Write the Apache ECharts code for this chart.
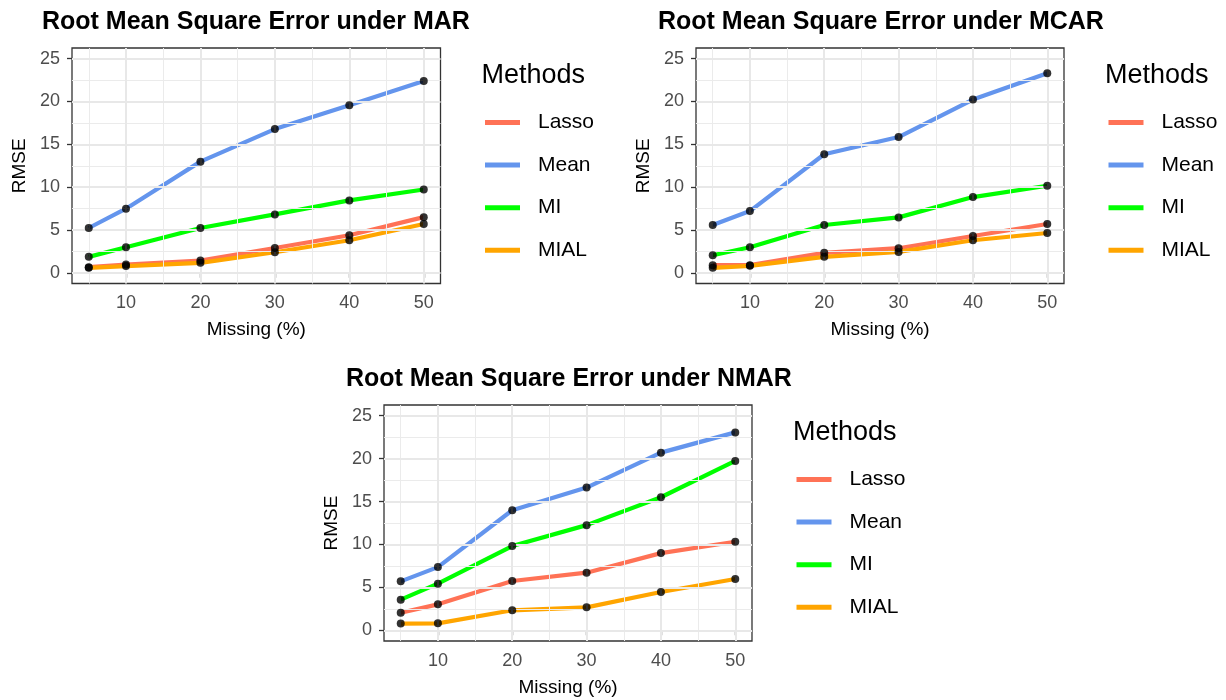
<!DOCTYPE html>
<html>
<head>
<meta charset="utf-8">
<script src="https://cdn.jsdelivr.net/npm/echarts@6/dist/echarts.min.js"></script>
<style>
  html, body { margin: 0; padding: 0; background: #fff; }
  #chart { width: 1226px; height: 700px; }
</style>
</head>
<body>
<div id="chart"></div>
<script>
// ---------- data ----------
const missingPct = [5, 10, 20, 30, 40, 50];
const methods = ['Lasso', 'Mean', 'MI', 'MIAL'];
const methodColors = ['#FF7256', '#6495ED', '#00FF00', '#FFA500'];
const xTickLabels = [10, 20, 30, 40, 50];
const yTickLabels = [0, 5, 10, 15, 20, 25];
const xMinorGrid = [5, 15, 25, 35, 45];
const yMinorGrid = [2.5, 7.5, 12.5, 17.5, 22.5];

const marLasso = [0.66, 0.97, 1.43, 2.90, 4.38, 6.50];
const marMean  = [5.23, 7.48, 12.98, 16.78, 19.57, 22.40];
const marMI    = [1.86, 2.98, 5.23, 6.82, 8.45, 9.73];
const marMIAL  = [0.58, 0.78, 1.16, 2.40, 3.80, 5.70];

const mcarLasso = [0.89, 0.89, 2.33, 2.87, 4.30, 5.70];
const mcarMean  = [5.58, 7.21, 13.84, 15.85, 20.23, 23.30];
const mcarMI    = [2.05, 2.98, 5.58, 6.47, 8.84, 10.16];
const mcarMIAL  = [0.58, 0.81, 1.86, 2.44, 3.80, 4.65];

const nmarLasso = [2.05, 3.02, 5.74, 6.71, 8.99, 10.31];
const nmarMean  = [5.70, 7.36, 13.99, 16.63, 20.70, 23.06];
const nmarMI    = [3.57, 5.43, 9.81, 12.25, 15.50, 19.73];
const nmarMIAL  = [0.78, 0.81, 2.33, 2.67, 4.46, 5.97];

const panelTitles = ['Root Mean Square Error under MAR', 'Root Mean Square Error under MCAR', 'Root Mean Square Error under NMAR'];
const panelSeries = [
  [marLasso, marMean, marMI, marMIAL],
  [mcarLasso, mcarMean, mcarMI, mcarMIAL],
  [nmarLasso, nmarMean, nmarMI, nmarMIAL]
];

// ---------- layout ----------
const FONT = 'Liberation Sans, Arial, Helvetica, sans-serif';
const layouts = [
  { left: 72,  top: 48,  width: 368.5, height: 235.5, titleLeft: 42 },
  { left: 696, top: 48,  width: 368,   height: 235.5, titleLeft: 658 },
  { left: 384, top: 405, width: 368,   height: 236,   titleLeft: 346 }
];

const grids = [], xAxes = [], yAxes = [], series = [], titles = [], legends = [];

layouts.forEach((L, p) => {
  grids.push({
    left: L.left, top: L.top, width: L.width, height: L.height,
    show: true, borderColor: '#333333', borderWidth: 1.3, backgroundColor: '#ffffff',
    containLabel: false
  });
  xAxes.push({
    gridIndex: p, type: 'value', min: 2.75, max: 52.25,
    axisLine: { show: false },
    axisTick: { show: true, customValues: xTickLabels, length: 5, lineStyle: { color: '#333333', width: 1.3 } },
    axisLabel: { customValues: xTickLabels, color: '#4D4D4D', fontSize: 18, fontFamily: FONT, margin: 11 },
    splitLine: { show: false },
    name: 'Missing (%)', nameLocation: 'middle', nameGap: 37,
    nameTextStyle: { color: '#000', fontSize: 19, fontFamily: FONT }
  });
  yAxes.push({
    gridIndex: p, type: 'value', min: -1.25, max: 26.25,
    axisLine: { show: false },
    axisTick: { show: true, customValues: yTickLabels, length: 5, lineStyle: { color: '#333333', width: 1.3 } },
    axisLabel: { customValues: yTickLabels, color: '#4D4D4D', fontSize: 18, fontFamily: FONT, margin: 12 },
    splitLine: { show: false },
    name: 'RMSE', nameLocation: 'middle', nameGap: 43,
    nameTextStyle: { color: '#000', fontSize: 19, fontFamily: FONT }
  });

  // grid lines drawn through the axes' own scales
  const gl = [];
  xMinorGrid.forEach(v => gl.push({ xAxis: v, lineStyle: { color: '#EBEBEB', width: 1, type: 'solid' } }));
  yMinorGrid.forEach(v => gl.push({ yAxis: v, lineStyle: { color: '#EBEBEB', width: 1, type: 'solid' } }));
  xTickLabels.forEach(v => gl.push({ xAxis: v, lineStyle: { color: '#E8E8E8', width: 2, type: 'solid' } }));
  yTickLabels.forEach(v => gl.push({ yAxis: v, lineStyle: { color: '#E8E8E8', width: 2, type: 'solid' } }));
  series.push({
    type: 'line', xAxisIndex: p, yAxisIndex: p, data: [], z: 1, silent: true,
    markLine: { silent: true, symbol: ['none', 'none'], label: { show: false }, animation: false, data: gl }
  });

  panelSeries[p].forEach((vals, m) => {
    series.push({
      name: methods[m], type: 'line', xAxisIndex: p, yAxisIndex: p, z: 2 + m * 0.01,
      data: missingPct.map((x, i) => [x, vals[i]]),
      showSymbol: false, symbol: 'none',
      color: methodColors[m],
      lineStyle: { color: methodColors[m], width: 4.2 },
      animation: false
    });
  });
  panelSeries[p].forEach((vals, m) => {
    series.push({
      type: 'scatter', xAxisIndex: p, yAxisIndex: p, z: 5,
      data: missingPct.map((x, i) => [x, vals[i]]),
      symbol: 'circle', symbolSize: 8,
      itemStyle: { color: '#000000' },
      animation: false, silent: true
    });
  });

  titles.push({
    text: panelTitles[p], left: L.titleLeft, top: L.top - 38, padding: 0,
    textStyle: { color: '#000', fontSize: 25, fontWeight: 'bold', fontFamily: FONT }
  });
  const right = L.left + L.width;
  titles.push({
    text: 'Methods', left: right + 41, top: L.top + 14, padding: 0,
    textStyle: { color: '#000', fontSize: 27, fontWeight: 'normal', fontFamily: FONT }
  });
  legends.push({
    data: methods.map(n => ({ name: n, icon: 'rect' })),
    orient: 'vertical', left: right + 44.5, top: L.top + 64,
    padding: 0, itemGap: 21.6, itemWidth: 35, itemHeight: 5,
    selectedMode: false,
    textStyle: { color: '#000', fontSize: 21, fontFamily: FONT, padding: [0, 0, 0, 13] }
  });
});

const chart = echarts.init(document.getElementById('chart'), null, { renderer: 'canvas' });
chart.setOption({
  backgroundColor: '#ffffff',
  animation: false,
  title: titles,
  legend: legends,
  grid: grids,
  xAxis: xAxes,
  yAxis: yAxes,
  series: series
});
</script>
</body>
</html>
